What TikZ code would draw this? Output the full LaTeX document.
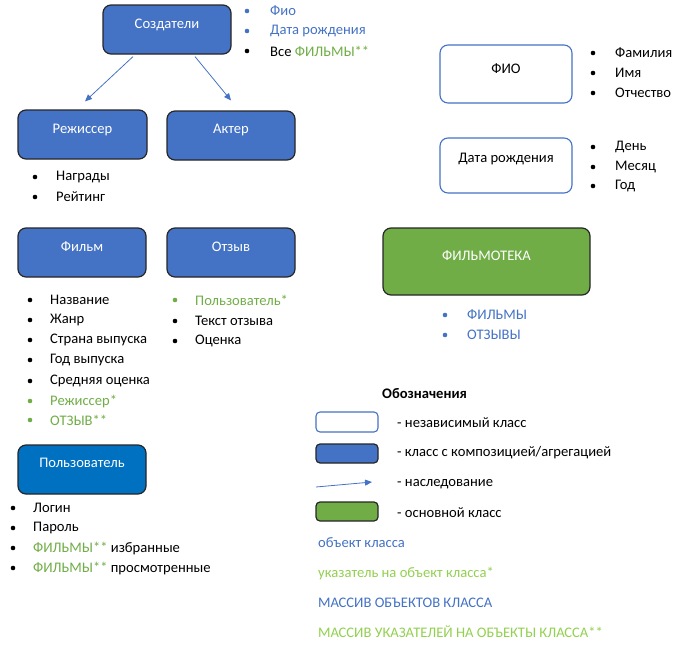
\documentclass[tikz,border=0pt]{standalone}
\usepackage{fontspec}
\setmainfont{Carlito}
\usetikzlibrary{arrows.meta}
\definecolor{boxblue}{HTML}{4472C4}
\definecolor{userblue}{HTML}{0070C0}
\definecolor{boxgreen}{HTML}{70AD47}
\definecolor{txtgreen}{HTML}{70AD47}
\definecolor{lgreen}{HTML}{92D050}
\definecolor{txtblue}{HTML}{4472C4}
\definecolor{edge}{HTML}{262626}
\newcommand{\fsz}{\fontsize{14.6}{17}\selectfont}
\tikzset{
  base/.style={rounded corners=8pt, inner sep=0pt},
  cbox/.style={base, fill=boxblue, draw=edge, line width=1.2pt},
  ubox/.style={base, fill=userblue, draw=edge, line width=1.2pt},
  gbox/.style={base, fill=boxgreen, draw=edge, line width=1.2pt},
  ibox/.style={base, fill=white, draw=boxblue, line width=1.1pt},
  wlab/.style={font=\fsz, text=white, inner sep=0pt},
  blab/.style={font=\fsz, text=black, inner sep=0pt},
  item/.style={font=\fsz, inner sep=0pt, anchor=west},
  bul/.style={circle, fill=#1, inner sep=0pt, minimum size=4.6pt},
  bul/.default=black,
  inh/.style={draw=boxblue, line width=0.8pt, -{Triangle[length=7pt,width=6pt]}}
}
\begin{document}
\begin{tikzpicture}[x=1pt,y=-1pt]
\path[use as bounding box] (0,0) rectangle (678,653);

% boxes
\node[cbox, minimum width=128pt, minimum height=49pt] (cr) at (167,29.5) {};
\node[wlab] (crt) at (167,25) {Создатели};
\node[cbox, minimum width=129pt, minimum height=49pt] (rez) at (82.5,134.5) {};
\node[wlab] (rezt) at (82.5,130) {Режиссер};
\node[cbox, minimum width=128pt, minimum height=49pt] (akt) at (231,135.5) {};
\node[wlab] (aktt) at (231,130) {Актер};
\node[cbox, minimum width=128pt, minimum height=49pt] (film) at (82,252.5) {};
\node[wlab] (filmt) at (82,247) {Фильм};
\node[cbox, minimum width=128pt, minimum height=49pt] (otz) at (231,252.5) {};
\node[wlab] (otzt) at (231,247) {Отзыв};
\node[ubox, minimum width=128pt, minimum height=49pt] (usr) at (82,469.5) {};
\node[wlab] (usrt) at (82,463) {Пользователь};
\node[ibox, minimum width=132pt, minimum height=58pt] (fio) at (506,74) {};
\node[blab] (fiot) at (506,69) {ФИО};
\node[ibox, minimum width=132pt, minimum height=55pt] (dr) at (506,165.5) {};
\node[blab] (drt) at (506,159) {Дата рождения};
\node[gbox, minimum width=207pt, minimum height=67pt] (ft) at (486.5,261.5) {};
\node[wlab] (ftt) at (486.5,256) {ФИЛЬМОТЕКА};

% inheritance arrows
\draw[inh] ([xshift=-34pt,yshift=-2pt]cr.south) -- ([xshift=2.5pt,yshift=8pt]rez.north);
\draw[inh] ([xshift=28pt,yshift=-2pt]cr.south) -- ([yshift=10pt]akt.north);

% Создатели list
\node[bul=txtblue] (cb1) at (247,11) {};
\node[item, text=txtblue] (c1) at (270,11) {Фио};
\node[bul=txtblue] (cb2) at (247,31) {};
\node[item, text=txtblue] (c2) at (270,31) {Дата рождения};
\node[bul] (cb3) at (247,51) {};
\node[item] (c3) at (270,51) {Все \textcolor{txtgreen}{ФИЛЬМЫ**}};

% Режиссер list
\node[bul] (rb1) at (35,177) {};
\node[item] (r1) at (56,177) {Награды};
\node[bul] (rb2) at (35,197) {};
\node[item] (r2) at (56,197) {Рейтинг};

% ФИО list
\node[bul] (fb1) at (593,53) {};
\node[item] (f1) at (615,53) {Фамилия};
\node[bul] (fb2) at (593,73) {};
\node[item] (f2) at (615,73) {Имя};
\node[bul] (fb3) at (593,93) {};
\node[item] (f3) at (615,93) {Отчество};

% Дата рождения list
\node[bul] (db1) at (593,147) {};
\node[item] (d1) at (615,147) {День};
\node[bul] (db2) at (593,167) {};
\node[item] (d2) at (615,167) {Месяц};
\node[bul] (db3) at (593,186) {};
\node[item] (d3) at (615,186) {Год};

% ФИЛЬМОТЕКА list
\node[bul=txtblue] (tb1) at (445,315) {};
\node[item, text=txtblue] (t1) at (467,315) {ФИЛЬМЫ};
\node[bul=txtblue] (tb2) at (445,335) {};
\node[item, text=txtblue] (t2) at (467,335) {ОТЗЫВЫ};

% Фильм list
\node[bul] (mb1) at (30,300) {};
\node[item] (m1) at (50,300) {Название};
\node[bul] (mb2) at (30,320) {};
\node[item] (m2) at (50,320) {Жанр};
\node[bul] (mb3) at (30,340) {};
\node[item] (m3) at (50,340) {Страна выпуска};
\node[bul] (mb4) at (30,360) {};
\node[item] (m4) at (50,360) {Год выпуска};
\node[bul] (mb5) at (30,381) {};
\node[item] (m5) at (50,381) {Средняя оценка};
\node[bul=txtgreen] (mb6) at (30,401) {};
\node[item, text=txtgreen] (m6) at (50,401) {Режиссер*};
\node[bul=txtgreen] (mb7) at (30,420) {};
\node[item, text=txtgreen] (m7) at (50,420) {ОТЗЫВ**};

% Отзыв list
\node[bul=txtgreen] (ob1) at (175,300) {};
\node[item, text=txtgreen] (o1) at (195,300) {Пользователь*};
\node[bul] (ob2) at (175,321) {};
\node[item] (o2) at (195,321) {Текст отзыва};
\node[bul] (ob3) at (175,341) {};
\node[item] (o3) at (195,341) {Оценка};

% Пользователь list
\node[bul] (ub1) at (13,508) {};
\node[item] (u1) at (33,508) {Логин};
\node[bul] (ub2) at (13,528) {};
\node[item] (u2) at (33,528) {Пароль};
\node[bul] (ub3) at (13,548) {};
\node[item] (u3) at (33,548) {\textcolor{txtgreen}{ФИЛЬМЫ**} избранные};
\node[bul] (ub4) at (13,568) {};
\node[item] (u4) at (33,568) {\textcolor{txtgreen}{ФИЛЬМЫ**} просмотренные};

% legend
\node[item, font=\fsz\bfseries] (lg) at (382,394) {Обозначения};
\node[ibox, minimum width=62pt, minimum height=20pt, rounded corners=4pt] (l1) at (347,422) {};
\node[item] (l1t) at (397,423) {- независимый класс};
\node[cbox, minimum width=62pt, minimum height=19pt, rounded corners=4pt] (l2) at (347,453.5) {};
\node[item] (l2t) at (397,453) {- класс с композицией/агрегацией};
\coordinate (la) at (316,487);
\coordinate (lb) at (372,482);
\draw[inh] (la) -- (lb);
\node[item] (l3t) at (397,484) {- наследование};
\node[gbox, minimum width=62pt, minimum height=19pt, rounded corners=4pt] (l4) at (347,511.5) {};
\node[item] (l4t) at (397,513) {- основной класс};
\node[item, text=txtblue] (k1) at (318,543) {объект класса};
\node[item, text=lgreen] (k2) at (318,573) {указатель на объект класса*};
\node[item, text=txtblue] (k3) at (318,603) {МАССИВ ОБЪЕКТОВ КЛАССА};
\node[item, text=lgreen] (k4) at (318,632) {МАССИВ УКАЗАТЕЛЕЙ НА ОБЪЕКТЫ КЛАССА**};
\end{tikzpicture}
\end{document}
